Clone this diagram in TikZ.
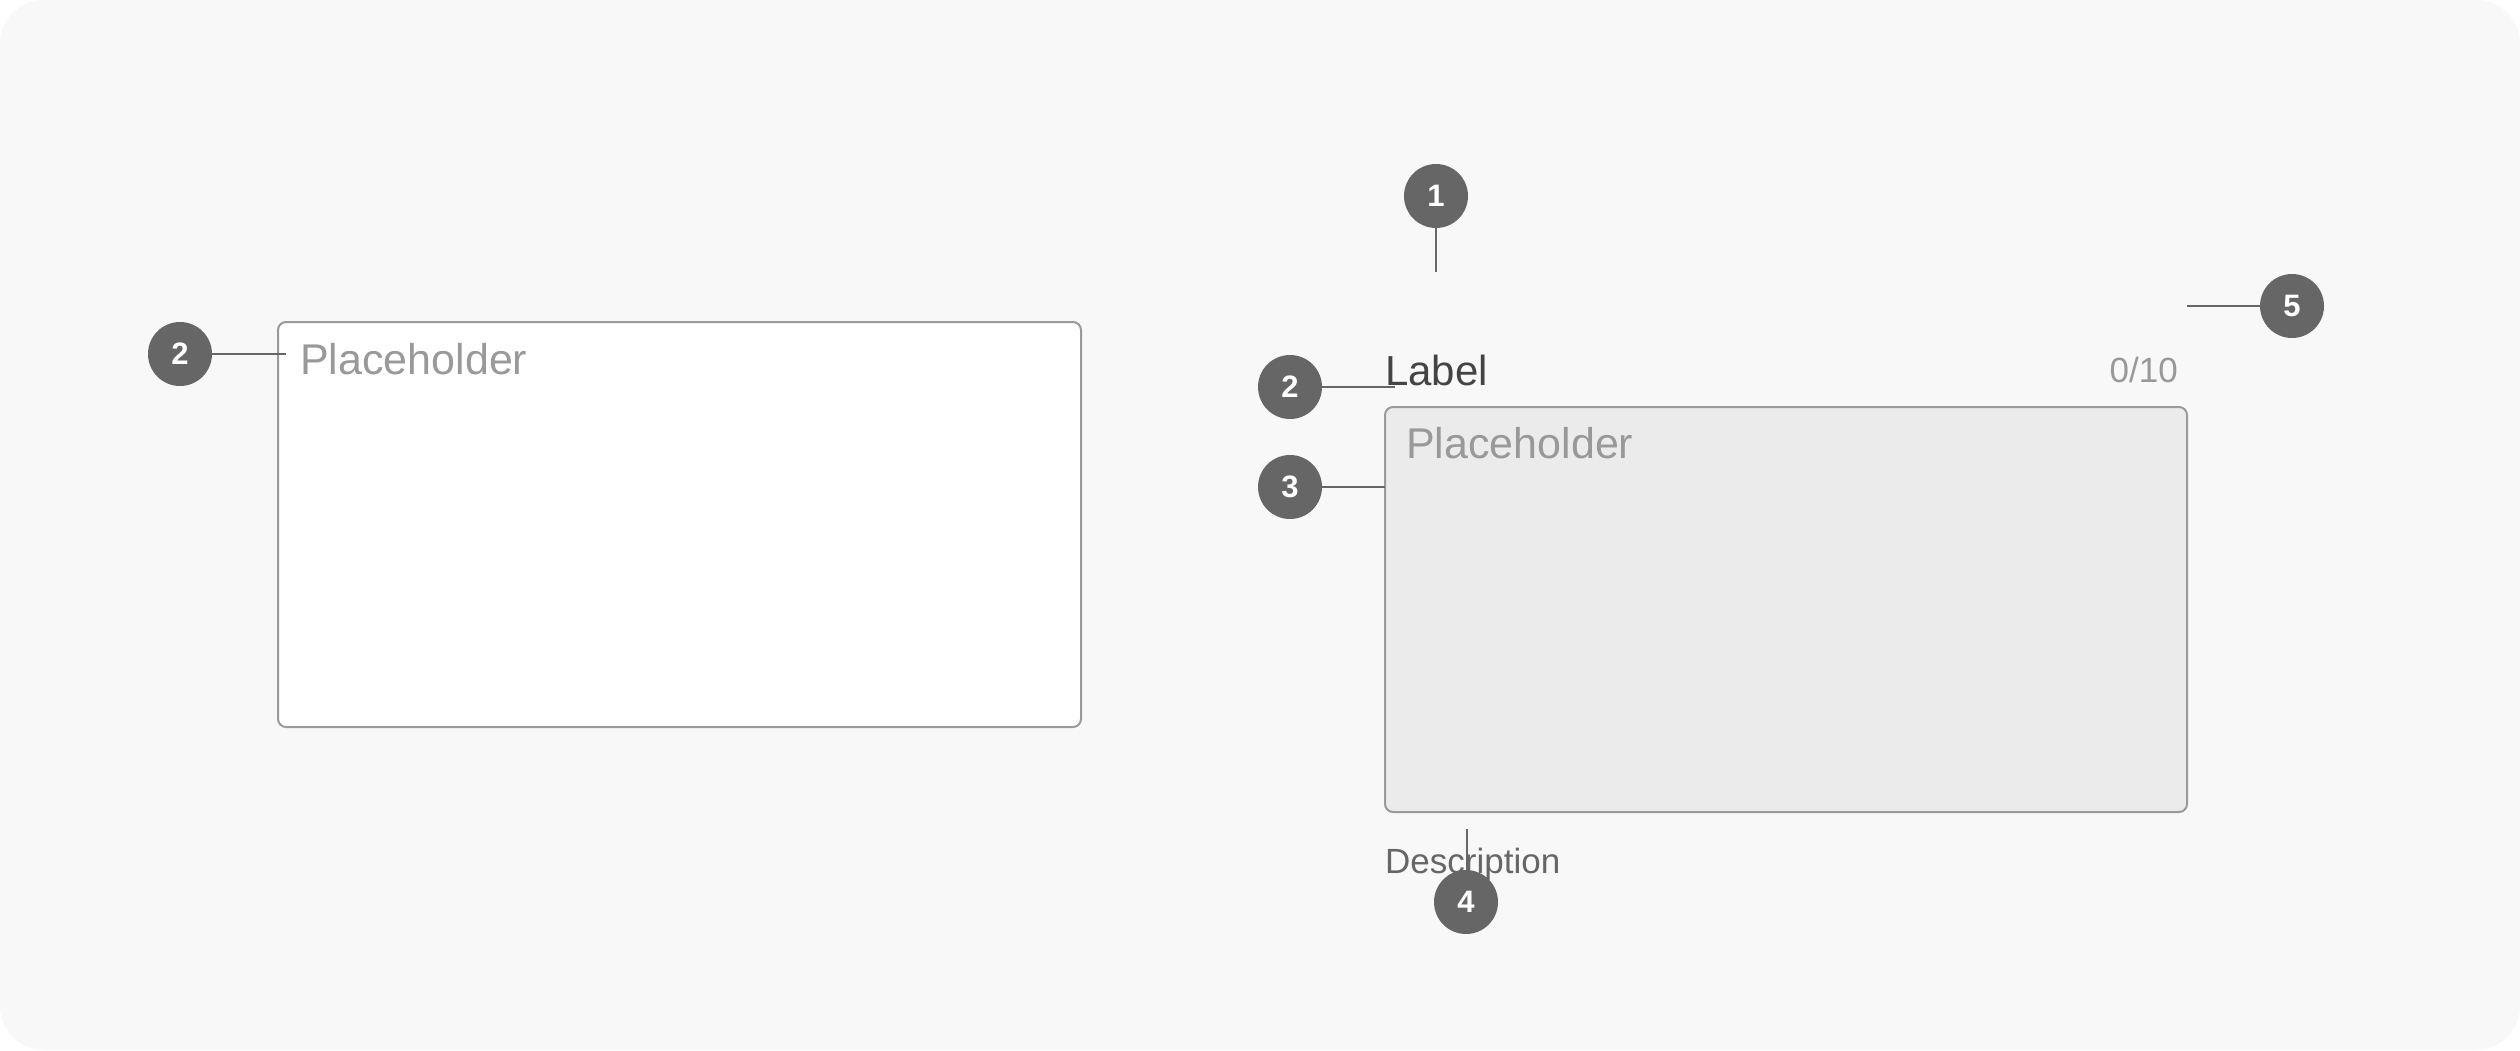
\documentclass[tikz,border=0pt]{standalone}
\usepackage{fontspec}
\setmainfont{Liberation Sans}
\definecolor{bgc}{HTML}{F8F8F8}
\definecolor{badgec}{HTML}{666666}
\definecolor{borderc}{HTML}{9A9A9A}
\definecolor{phc}{HTML}{999999}
\definecolor{fieldc}{HTML}{EBEBEB}
\definecolor{labelc}{HTML}{444444}
\definecolor{descc}{HTML}{666666}
\begin{document}
\begin{tikzpicture}[x=1pt,y=-1pt,
  badge/.style={circle,fill=badgec,minimum size=64pt,inner sep=0pt,text=white,font=\bfseries\fontsize{31}{32}\selectfont},
  leader/.style={draw=badgec,line width=2.2pt},
  fieldbox/.style={draw=borderc,line width=2pt,rounded corners=8pt},
  txt/.style={inner sep=0pt,anchor=base west}]
\useasboundingbox (0,0) rectangle (2520,1050);
\fill[white] (0,0) rectangle (2520,1050);
\fill[bgc,rounded corners=44pt] (0,0) rectangle (2520,1050);
% left field
\draw[fieldbox,fill=white] (278,322) rectangle (1081,727);
\node[txt,text=phc,font=\fontsize{43}{48}\selectfont] (lph) at (300,374) {Placeholder};
\node[badge] (lb2) at (180,354) {2};
\coordinate (lb2e) at (286,354);
\draw[leader] (lb2) -- (lb2e);
% right field
\draw[fieldbox,fill=fieldc] (1385,407) rectangle (2187,812);
\node[txt,text=phc,font=\fontsize{43}{48}\selectfont] (rph) at (1406,458) {Placeholder};
\node[txt,text=labelc,font=\fontsize{42}{48}\selectfont] (lab) at (1385,385) {Label};
\node[inner sep=0pt,anchor=base east,text=phc,font=\fontsize{35}{40}\selectfont] (cnt) at (2178,382) {0/10};
\node[txt,text=descc,font=\fontsize{35}{40}\selectfont] (desc) at (1385,873) {Description};
% badges
\node[badge] (b1) at (1436,196) {1};
\coordinate (b1e) at (1436,272);
\draw[leader] (b1) -- (b1e);
\node[badge] (b2) at (1290,387) {2};
\coordinate (b2e) at (1395,387);
\draw[leader] (b2) -- (b2e);
\node[badge] (b3) at (1290,487) {3};
\coordinate (b3e) at (1385,487);
\draw[leader] (b3) -- (b3e);
\coordinate (b4e) at (1467,829);
\draw[leader] (1467,870) -- (b4e);
\node[badge] (b4) at (1466,902) {4};
\node[badge] (b5) at (2292,306) {5};
\coordinate (b5e) at (2187,306);
\draw[leader] (b5) -- (b5e);
\end{tikzpicture}
\end{document}
